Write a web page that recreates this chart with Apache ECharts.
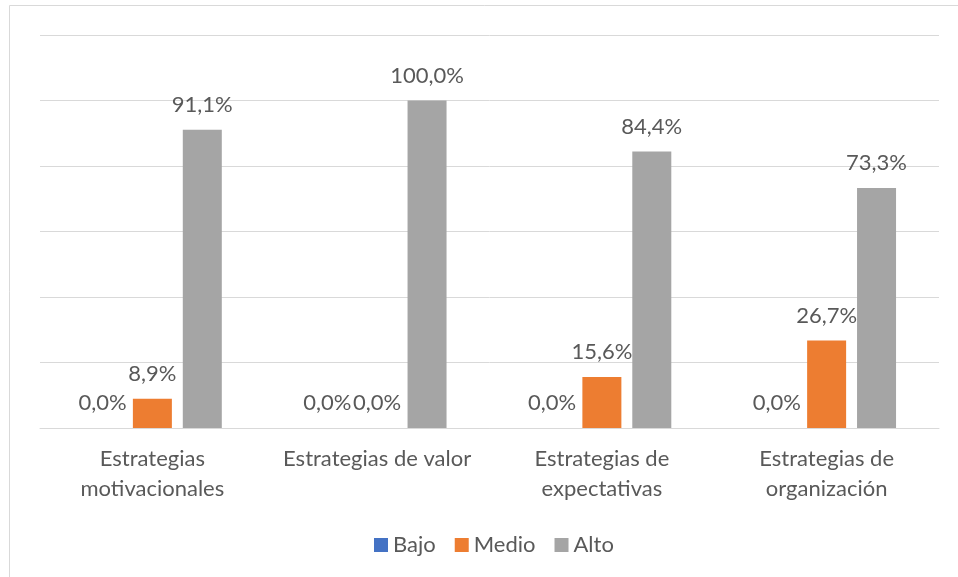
<!DOCTYPE html>
<html>
<head>
<meta charset="utf-8">
<script src="https://cdn.jsdelivr.net/npm/echarts@6/dist/echarts.min.js"></script>
<style>
  html, body { margin: 0; padding: 0; background: #fff; }
  #chart { width: 958px; height: 577px; }
</style>
</head>
<body>
<div id="chart"></div>
<script>
var categories = ['Estrategias\nmotivacionales', 'Estrategias de valor', 'Estrategias de\nexpectativas', 'Estrategias de\norganización'];
var bajo = [0, 0, 0, 0];
var medio = [8.9, 0, 15.6, 26.7];
var alto = [91.1, 100, 84.4, 73.3];
var yTicks = [0, 20, 40, 60, 80, 100, 120];

var FONT = 'Lato';
var TXT = '#595959';

function pct(p) {
    return p.value.toFixed(1).replace('.', ',') + '%';
}

function makeSeries(name, data, color) {
    return {
        name: name,
        type: 'bar',
        data: data,
        barWidth: 39,
        barGap: '28%',
        itemStyle: { color: color },
        label: {
            show: true,
            position: 'top',
            distance: 14,
            formatter: pct,
            color: TXT,
            fontFamily: FONT,
            fontSize: 22
        }
    };
}

var chart = echarts.init(document.getElementById('chart'));
chart.setOption({
    animation: false,
    backgroundColor: '#fff',
    graphic: [{
        type: 'rect',
        shape: { x: 9.5, y: 5.5, width: 1000, height: 1000 },
        style: { fill: 'none', stroke: '#d9d9d9', lineWidth: 1 },
        silent: true
    }],
    grid: { left: 40, right: 19, top: 35, bottom: 149 },
    legend: {
        data: ['Bajo', 'Medio', 'Alto'],
        top: 529,
        left: 369,
        itemWidth: 14,
        itemHeight: 14,
        itemGap: 19,
        icon: 'rect',
        textStyle: { color: TXT, fontFamily: FONT, fontSize: 22 }
    },
    xAxis: {
        type: 'category',
        data: categories,
        axisTick: { show: false },
        axisLine: { lineStyle: { color: '#d9d9d9', width: 1 } },
        axisLabel: {
            color: TXT,
            fontFamily: FONT,
            fontSize: 22,
            lineHeight: 30,
            margin: 16,
            interval: 0
        }
    },
    yAxis: {
        type: 'value',
        min: yTicks[0],
        max: yTicks[yTicks.length - 1],
        interval: 20,
        axisLabel: { show: false },
        axisLine: { show: false },
        axisTick: { show: false },
        splitLine: { lineStyle: { color: '#d9d9d9', width: 1 } }
    },
    series: [
        makeSeries('Bajo', bajo, '#4472c4'),
        makeSeries('Medio', medio, '#ed7d31'),
        makeSeries('Alto', alto, '#a5a5a5')
    ]
});
</script>
</body>
</html>
